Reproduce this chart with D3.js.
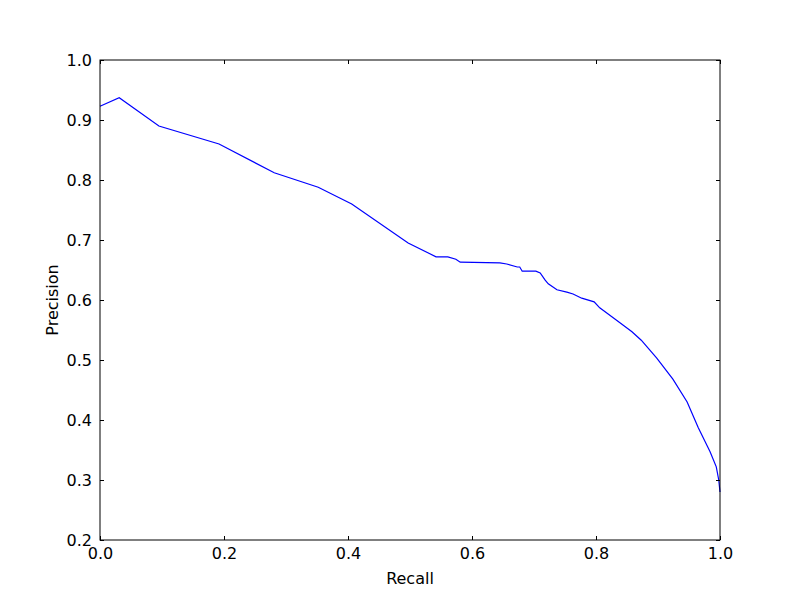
<!DOCTYPE html>
<html>
<head>
<meta charset="utf-8">
<script src="https://cdn.jsdelivr.net/npm/d3@7"></script>
<style>
  body { margin: 0; background: #fff; }
  text { font-family: "DejaVu Sans", sans-serif; }
</style>
</head>
<body>
<div id="chart"></div>
<script>
// precision-recall curve
const recall = [0, 0.031, 0.095, 0.192, 0.281, 0.352, 0.406, 0.497, 0.542, 0.561, 0.574, 0.581,
  0.645, 0.656, 0.673, 0.677, 0.681, 0.703, 0.710, 0.718, 0.723, 0.737, 0.753, 0.763, 0.777,
  0.797, 0.806, 0.831, 0.844, 0.858, 0.873, 0.898, 0.924, 0.947, 0.965, 0.984, 0.994, 0.998, 1.0];
const precision = [0.923, 0.937, 0.890, 0.860, 0.812, 0.788, 0.760, 0.695, 0.672, 0.672, 0.668, 0.663,
  0.662, 0.660, 0.655, 0.655, 0.648, 0.648, 0.645, 0.633, 0.627, 0.617, 0.613, 0.610, 0.603,
  0.597, 0.587, 0.568, 0.558, 0.547, 0.533, 0.503, 0.468, 0.430, 0.387, 0.347, 0.322, 0.300, 0.280];
const xTicks = [0, 0.2, 0.4, 0.6, 0.8, 1.0];
const yTicks = [0.2, 0.3, 0.4, 0.5, 0.6, 0.7, 0.8, 0.9, 1.0];

const W = 800, H = 600;
const margin = { top: 60, right: 80, bottom: 60, left: 100 };
const width = W - margin.left - margin.right;
const height = H - margin.top - margin.bottom;

const svg = d3.select('#chart').append('svg')
    .attr('width', W)
    .attr('height', H);

const g = svg.append('g')
    .attr('transform', `translate(${margin.left},${margin.top})`);

const x = d3.scaleLinear().domain([0, 1]).range([0, width]);
const y = d3.scaleLinear().domain([0.2, 1.0]).range([height, 0]);

const data = recall.map((r, i) => ({ r, p: precision[i] }));

// curve
g.append('path')
    .datum(data)
    .attr('fill', 'none')
    .attr('stroke', '#0000ff')
    .attr('stroke-width', 1.2)
    .attr('d', d3.line().x(d => x(d.r)).y(d => y(d.p)));

// axes, ticks pointing inward on all four sides
const fmt = d3.format('.1f');
const styleAxis = sel => {
    sel.select('.domain').remove();
    sel.selectAll('line').attr('stroke', '#000');
    sel.selectAll('text').attr('fill', '#000').style('font-size', '16px');
};

g.append('g')
    .attr('transform', `translate(0,${height})`)
    .call(d3.axisBottom(x).tickValues(xTicks).tickFormat(fmt).tickSizeInner(-4).tickSizeOuter(0).tickPadding(8))
    .call(styleAxis);
g.append('g')
    .call(d3.axisTop(x).tickValues(xTicks).tickFormat('').tickSizeInner(-4).tickSizeOuter(0))
    .call(styleAxis);
g.append('g')
    .call(d3.axisLeft(y).tickValues(yTicks).tickFormat(fmt).tickSizeInner(-4).tickSizeOuter(0).tickPadding(8))
    .call(styleAxis);
g.append('g')
    .attr('transform', `translate(${width},0)`)
    .call(d3.axisRight(y).tickValues(yTicks).tickFormat('').tickSizeInner(-4).tickSizeOuter(0))
    .call(styleAxis);

// frame
g.append('rect')
    .attr('width', width)
    .attr('height', height)
    .attr('fill', 'none')
    .attr('stroke', '#000')
    .attr('stroke-width', 1);

// axis labels
g.append('text')
    .attr('x', width / 2)
    .attr('y', height + 44)
    .style('text-anchor', 'middle')
    .style('font-size', '16px')
    .text('Recall');

g.append('text')
    .attr('transform', 'rotate(-90)')
    .attr('x', -height / 2)
    .attr('y', -42)
    .style('text-anchor', 'middle')
    .style('font-size', '16px')
    .text('Precision');
</script>
</body>
</html>
